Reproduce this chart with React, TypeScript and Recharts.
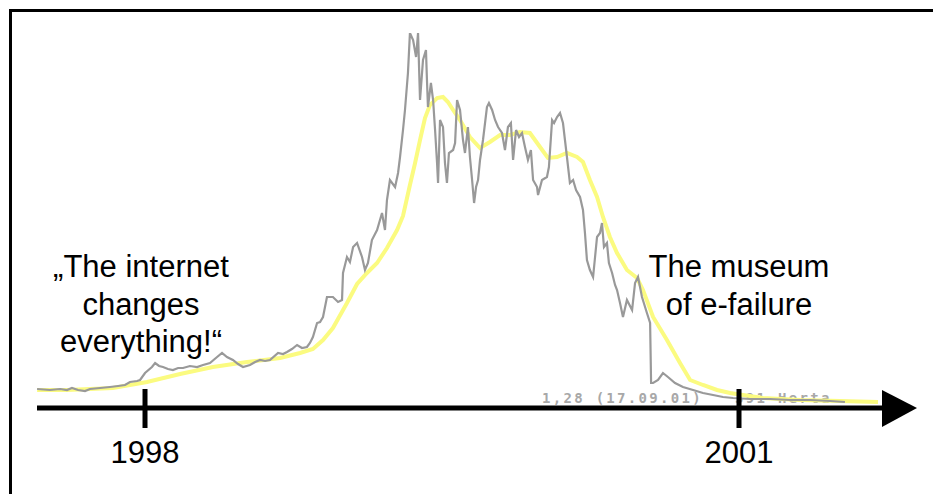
import React from "react";
import { LineChart, Line, XAxis, YAxis, ReferenceDot } from "recharts";

// daily share price (index units), time as fractional year
const priceT = [
  1997.455, 1997.52, 1997.571, 1997.606, 1997.631, 1997.662, 1997.697, 1997.722, 1997.773, 1997.823,
  1997.864, 1997.899, 1997.924, 1997.96, 1997.975, 1998.0, 1998.035, 1998.051, 1998.071, 1998.091,
  1998.116, 1998.141, 1998.167, 1998.192, 1998.227, 1998.263, 1998.293, 1998.328, 1998.364, 1998.389,
  1998.414, 1998.444, 1998.47, 1998.495, 1998.53, 1998.556, 1998.581, 1998.606, 1998.631, 1998.672,
  1998.697, 1998.717, 1998.742, 1998.768, 1998.793, 1998.818, 1998.833, 1998.848, 1998.869, 1998.884,
  1998.899, 1998.919, 1998.949, 1998.975, 1998.995, 1999.0, 1999.02, 1999.035, 1999.051, 1999.071,
  1999.096, 1999.111, 1999.126, 1999.146, 1999.172, 1999.197, 1999.212, 1999.222, 1999.237, 1999.263,
  1999.278, 1999.288, 1999.303, 1999.313, 1999.328, 1999.338, 1999.354, 1999.369, 1999.379, 1999.389,
  1999.404, 1999.419, 1999.424, 1999.429, 1999.444, 1999.455, 1999.465, 1999.475, 1999.48, 1999.49,
  1999.505, 1999.515, 1999.525, 1999.535, 1999.556, 1999.566, 1999.576, 1999.591, 1999.606, 1999.616,
  1999.631, 1999.641, 1999.652, 1999.662, 1999.672, 1999.682, 1999.692, 1999.707, 1999.727, 1999.737,
  1999.753, 1999.768, 1999.783, 1999.803, 1999.818, 1999.833, 1999.848, 1999.859, 1999.874, 1999.889,
  1999.904, 1999.919, 1999.934, 1999.949, 1999.96, 1999.98, 1999.985, 2000.005, 2000.03, 2000.04,
  2000.056, 2000.066, 2000.081, 2000.096, 2000.111, 2000.121, 2000.131, 2000.146, 2000.162, 2000.177,
  2000.197, 2000.212, 2000.222, 2000.232, 2000.247, 2000.263, 2000.273, 2000.283, 2000.298, 2000.308,
  2000.318, 2000.333, 2000.343, 2000.359, 2000.374, 2000.384, 2000.399, 2000.414, 2000.434, 2000.46,
  2000.475, 2000.49, 2000.51, 2000.535, 2000.551, 2000.556, 2000.566, 2000.591, 2000.616, 2000.641,
  2000.677, 2000.717, 2000.768, 2000.818, 2000.869, 2000.919, 2000.97, 2001.056, 2001.157, 2001.258,
  2001.359, 2001.46, 2001.535,
];
const priceV = [
  19, 18, 19, 18, 20, 18, 17, 19, 20, 21,
  22, 23, 26, 27, 28, 35, 41, 45, 42, 41,
  39, 38, 40, 40, 42, 41, 43, 45, 51, 55,
  51, 48, 44, 41, 43, 46, 48, 47, 48, 55,
  54, 56, 59, 63, 60, 61, 65, 71, 85, 86,
  91, 111, 111, 106, 108, 135, 151, 146, 161, 165,
  151, 138, 145, 168, 178, 195, 178, 208, 228, 221,
  235, 251, 278, 298, 335, 375, 368, 351, 375, 308,
  348, 358, 328, 301, 325, 308, 278, 245, 225, 288,
  281, 245, 225, 255, 258, 265, 308, 298, 268, 255,
  281, 251, 228, 205, 221, 228, 248, 268, 301, 305,
  298, 288, 281, 275, 258, 281, 285, 248, 278, 271,
  275, 261, 248, 258, 228, 221, 213, 228, 231, 241,
  288, 285, 291, 295, 285, 268, 251, 225, 228, 218,
  211, 198, 175, 148, 138, 131, 151, 171, 175, 185,
  161, 165, 145, 135, 123, 118, 105, 91, 108, 98,
  125, 131, 111, 95, 85, 25, 25, 28, 35, 31,
  25, 21, 18, 15, 13, 11, 10, 9, 9, 8,
  8, 7, 6,
];

// smoothed moving average
const avgT = [
  1997.455, 1997.606, 1997.722, 1997.838, 1998.01, 1998.177, 1998.343, 1998.515, 1998.682, 1998.783,
  1998.848, 1998.899, 1998.949, 1999.02, 1999.071, 1999.121, 1999.172, 1999.222, 1999.273, 1999.303,
  1999.338, 1999.364, 1999.389, 1999.414, 1999.439, 1999.475, 1999.505, 1999.53, 1999.556, 1999.591,
  1999.641, 1999.692, 1999.742, 1999.793, 1999.843, 1999.894, 1999.944, 1999.995, 2000.035, 2000.081,
  2000.131, 2000.182, 2000.212, 2000.247, 2000.283, 2000.313, 2000.348, 2000.384, 2000.434, 2000.485,
  2000.515, 2000.566, 2000.636, 2000.702, 2000.753, 2000.818, 2000.889, 2000.955, 2001.02, 2001.121,
  2001.308, 2001.51, 2001.702,
];
const avgV = [
  18, 18, 19, 20, 26, 34, 41, 46, 50, 55,
  59, 68, 80, 105, 124, 135, 145, 160, 178, 192,
  223, 245, 268, 290, 303, 310, 311, 306, 298, 288,
  271, 260, 266, 273, 273, 276, 275, 261, 250, 251,
  255, 251, 246, 228, 211, 191, 171, 155, 138, 130,
  118, 91, 68, 45, 28, 23, 18, 15, 13, 10,
  8, 7, 6,
];

const yearTicks = [1998, 2001];
const leftNote = ["\u201eThe internet", "changes", "everything!\u201c"];
const rightNote = ["The museum", "of e-failure"];
const sourceNote = "1,28 (17.09.01)\u00a0\u00a0\u00a0391 Herta";

const priceData = priceT.map((t, i) => ({ t, v: priceV[i] }));
const avgData = avgT.map((t, i) => ({ t, v: avgV[i] }));

const X_MIN = 1997.4545;
const X_MAX = 2001.7222;
const FONT = '"Liberation Sans", Arial, sans-serif';

function YearTick(props: any) {
  const { x, y, payload } = props;
  return (
    <g>
      <line x1={x} x2={x} y1={y - 19} y2={y + 20} stroke="#000" strokeWidth={5} />
      <text x={x} y={y + 55} textAnchor="middle" fontSize={31} fontFamily={FONT} fill="#000">
        {payload.value}
      </text>
    </g>
  );
}

function Arrow(props: any) {
  const { cx, cy } = props;
  return <polygon points={`${cx},${cy - 18} ${cx + 35},${cy} ${cx},${cy + 19}`} fill="#000" />;
}

const noteStyle: React.CSSProperties = {
  position: "absolute",
  top: 248,
  width: 240,
  textAlign: "center",
  fontFamily: FONT,
  fontSize: 31,
  lineHeight: "37.5px",
  color: "#000",
};

export default function App() {
  return (
    <div
      style={{
        position: "absolute",
        left: 0,
        top: 0,
        width: 933,
        height: 494,
        overflow: "hidden",
        background: "#fff",
      }}
    >
      <div
        style={{
          position: "absolute",
          left: 9,
          top: 9,
          width: 924,
          height: 485,
          boxSizing: "border-box",
          borderTop: "3px solid #000",
          borderLeft: "3px solid #000",
        }}
      />
      <div
        style={{
          position: "absolute",
          left: 542,
          top: 391,
          fontFamily: '"DejaVu Sans Mono", monospace',
          fontSize: 14,
          fontWeight: "bold",
          lineHeight: "14px",
          letterSpacing: 2.3,
          color: "#a8a8a8",
          whiteSpace: "pre",
        }}
      >
        {sourceNote}
      </div>
      <div style={{ position: "absolute", left: 0, top: 0 }}>
        <LineChart width={933} height={494} margin={{ top: 33, right: 51, bottom: 0, left: 37 }}>
          <XAxis
            type="number"
            dataKey="t"
            domain={[X_MIN, X_MAX]}
            allowDataOverflow
            ticks={yearTicks}
            interval={0}
            height={86}
            axisLine={{ stroke: "#000", strokeWidth: 5 }}
            tickLine={false}
            tickSize={0}
            tickMargin={0}
            tick={<YearTick />}
          />
          <YAxis type="number" domain={[0, 375]} hide allowDataOverflow />
          <Line
            data={avgData}
            dataKey="v"
            type="linear"
            stroke="#fbfb80"
            strokeWidth={4}
            dot={false}
            isAnimationActive={false}
          />
          <Line
            data={priceData}
            dataKey="v"
            type="linear"
            stroke="#999999"
            strokeWidth={2.2}
            dot={false}
            isAnimationActive={false}
          />
          <ReferenceDot x={X_MAX} y={0} ifOverflow="visible" shape={<Arrow />} />
        </LineChart>
      </div>
      <div style={{ ...noteStyle, left: 21 }}>
        {leftNote.map((l) => (
          <div key={l}>{l}</div>
        ))}
      </div>
      <div style={{ ...noteStyle, left: 619 }}>
        {rightNote.map((l) => (
          <div key={l}>{l}</div>
        ))}
      </div>
    </div>
  );
}
